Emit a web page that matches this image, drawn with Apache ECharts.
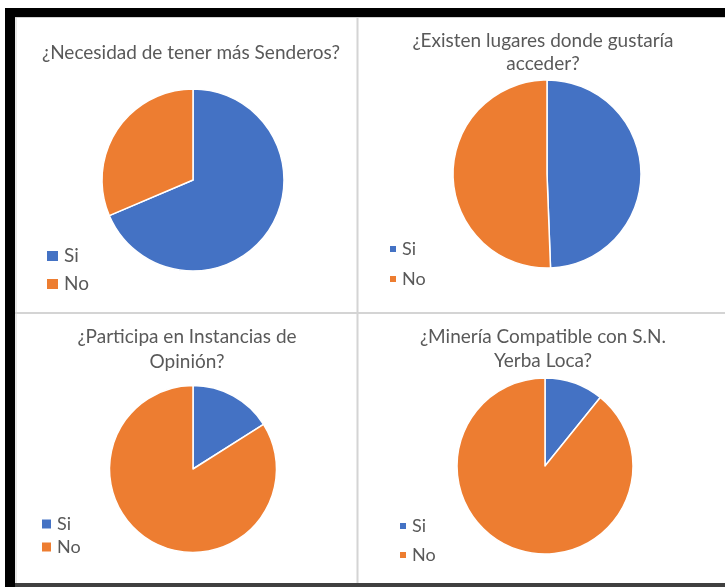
<!DOCTYPE html>
<html>
<head>
<meta charset="utf-8">
<script src="https://cdn.jsdelivr.net/npm/echarts@6/dist/echarts.min.js"></script>
<style>
html,body{margin:0;padding:0;background:#fff;}
#chart{width:725px;height:587px;}
</style>
</head>
<body>
<div id="chart"></div>
<script>
// Data
const categories = ['Si', 'No'];
const senderosValues = [68.6, 31.4];
const lugaresValues = [49.4, 50.6];
const participaValues = [16, 84];
const mineriaValues = [10.8, 89.2];
const titles = [
  '¿Necesidad de tener más Senderos?',
  '¿Existen lugares donde gustaría\nacceder?',
  '¿Participa en Instancias de\nOpinión?',
  '¿Minería Compatible con S.N.\nYerba Loca?'
];

const colors = ['#4472C4', '#ED7D31'];
const FONT = 'Lato, "Open Sans", sans-serif';
const TEXT = '#595959';

function pieData(vals) {
  return categories.map((c, i) => ({ name: c, value: vals[i] }));
}

const chart = echarts.init(document.getElementById('chart'), null, { renderer: 'canvas' });

const panels = [
  { vals: senderosValues, center: [193, 180], r: 91, title: { x: 191, top: 41, lh: 23 }, legend: { left: 45, top: 246, gap: 8, iw: 13, ih: 12, fs: 19 } },
  { vals: lugaresValues, center: [547, 174], r: 94, title: { x: 543, top: 29, lh: 23 }, legend: { left: 388, top: 239, gap: 10, iw: 8, ih: 8, fs: 18 } },
  { vals: participaValues, center: [193, 469], r: 83.5, title: { x: 187, top: 324, lh: 25 }, legend: { left: 40, top: 514, gap: 3, iw: 11, ih: 11, fs: 18 } },
  { vals: mineriaValues, center: [545, 466], r: 88, title: { x: 543, top: 325, lh: 24 }, legend: { left: 398, top: 516, gap: 9, iw: 8, ih: 8, fs: 18 } }
];

const option = {
  animation: false,
  color: colors,
  title: panels.map((p, i) => ({
    text: titles[i],
    left: p.title.x,
    top: p.title.top,
    textAlign: 'center',
    padding: 0,
    textStyle: { fontFamily: FONT, fontSize: 19, fontWeight: 'normal', color: TEXT, lineHeight: p.title.lh }
  })),
  legend: panels.map((p) => ({
    data: categories,
    orient: 'vertical',
    left: p.legend.left,
    top: p.legend.top,
    padding: 0,
    itemGap: p.legend.gap,
    itemWidth: p.legend.iw,
    itemHeight: p.legend.ih,
    icon: 'rect',
    selectedMode: false,
    textStyle: { fontFamily: FONT, fontSize: p.legend.fs, color: TEXT, lineHeight: 20 }
  })),
  graphic: [
    { type: 'rect', shape: { x: 7, y: 8, width: 718, height: 9 }, style: { fill: '#000' }, silent: true },
    { type: 'rect', shape: { x: 5, y: 8, width: 10, height: 579 }, style: { fill: '#000' }, silent: true },
    { type: 'rect', shape: { x: 15, y: 583, width: 710, height: 4 }, style: { fill: '#404040' }, silent: true },
    { type: 'line', shape: { x1: 357.5, y1: 17, x2: 357.5, y2: 583 }, style: { stroke: '#d4d4d4', lineWidth: 2 }, silent: true },
    { type: 'line', shape: { x1: 15, y1: 313, x2: 725, y2: 313 }, style: { stroke: '#d4d4d4', lineWidth: 2 }, silent: true },
    { type: 'line', shape: { x1: 16, y1: 17, x2: 16, y2: 583 }, style: { stroke: '#d0d0d0', lineWidth: 1 }, silent: true },
    { type: 'line', shape: { x1: 15, y1: 17.5, x2: 725, y2: 17.5 }, style: { stroke: '#d0d0d0', lineWidth: 1 }, silent: true }
  ],
  series: panels.map((p) => ({
    type: 'pie',
    center: p.center,
    radius: [0, p.r],
    startAngle: 90,
    clockwise: true,
    label: { show: false },
    labelLine: { show: false },
    emphasis: { disabled: true },
    itemStyle: { borderColor: '#ffffff', borderWidth: 1.5 },
    data: pieData(p.vals)
  }))
};

chart.setOption(option);
</script>
</body>
</html>
